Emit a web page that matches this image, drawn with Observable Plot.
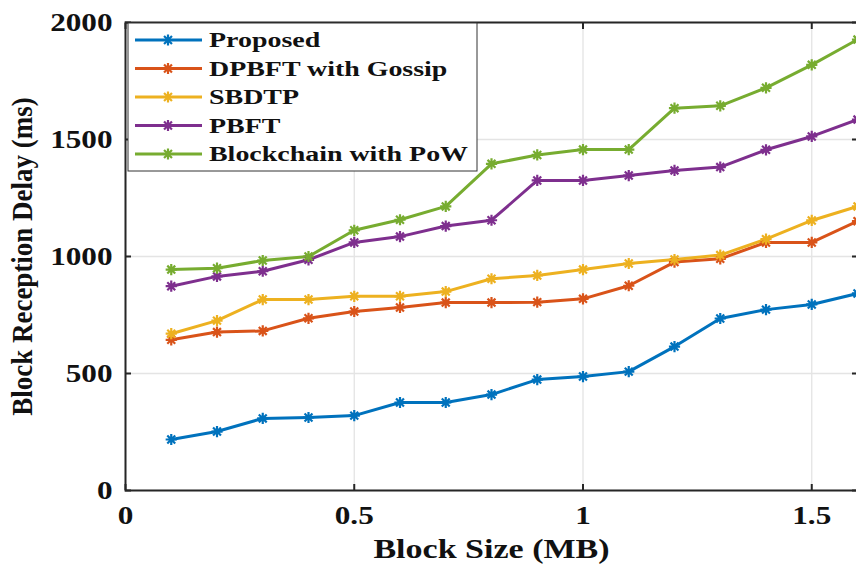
<!DOCTYPE html>
<html><head><meta charset="utf-8">
<script src="https://cdn.jsdelivr.net/npm/d3@7"></script>
<script src="https://cdn.jsdelivr.net/npm/@observablehq/plot@0.6"></script>
<style>
html,body{margin:0;padding:0;background:#fff;overflow:hidden;}
#wrap{position:relative;width:856px;height:566px;overflow:hidden;}
#wrap svg text{font-family:"Liberation Serif","Times New Roman",serif;font-weight:bold;}
</style></head><body><div id="wrap"></div>
<script>
const blockSize = [0.1,0.2,0.3,0.4,0.5,0.6,0.7,0.8,0.9,1.0,1.1,1.2,1.3,1.4,1.5,1.6];
const seriesNames = ["Proposed","DPBFT with Gossip","SBDTP","PBFT","Blockchain with PoW"];
const seriesColors = ["#0072BD","#D95319","#EDB120","#7E2F8E","#77AC30"];
const proposed = [218,252,308,312,320,376,376,410,474,487,508,615,735,773,795,842];
const dpbft    = [644,677,682,736,765,782,803,803,805,819,875,976,990,1060,1060,1151];
const sbdtp    = [670,726,816,816,830,830,850,905,919,944,970,987,1006,1074,1154,1214];
const pbft     = [873,915,937,986,1060,1085,1130,1155,1325,1325,1346,1368,1382,1456,1513,1585];
const pow      = [944,950,983,1000,1112,1157,1214,1396,1434,1457,1457,1634,1644,1721,1819,1927];
const xTicks = [0,0.5,1,1.5];
const yTicks = [0,500,1000,1500,2000];
const xLabel = "Block Size (MB)";
const yLabel = "Block Reception Delay (ms)";

const seriesValues = [proposed, dpbft, sbdtp, pbft, pow];
const data = seriesNames.flatMap((name, k) => blockSize.map((x, i) => ({series: name, x, y: seriesValues[k][i]})));

const ink = "#262626";
const txt = "#111";
const gridC = "#e4e4e4";
const R = 5.6;
const LW = 3;
const MW = 2.2;
const TICK_FS = 26, LABEL_FS = 27, LEGEND_FS = 22;

// MATLAB-style '*' marker: eight arms
const star8 = {
  draw(context, size) {
    const r = Math.sqrt(size / Math.PI);
    for (let k = 0; k < 4; ++k) {
      const a = k * Math.PI / 4, c = r * Math.cos(a), s = r * Math.sin(a);
      context.moveTo(c, s);
      context.lineTo(-c, -s);
    }
  }
};

const chart = Plot.plot({
  width: 856, height: 566,
  marginLeft: 125, marginRight: -1, marginTop: 22, marginBottom: 76,
  x: {domain: [0, 1.6]},
  y: {domain: [0, 2000]},
  color: {domain: seriesNames, range: seriesColors},
  style: {maxWidth: "none", background: "#fff"},
  marks: [
    Plot.gridX(xTicks, {stroke: gridC, strokeOpacity: 1, strokeWidth: 1.3}),
    Plot.gridY(yTicks, {stroke: gridC, strokeOpacity: 1, strokeWidth: 1.3}),
    Plot.line(data, {x: "x", y: "y", z: "series", stroke: "series", strokeWidth: LW}),
    Plot.dot(data, {x: "x", y: "y", stroke: "series", symbol: star8, r: R, strokeWidth: MW}),
    Plot.frame({stroke: ink, strokeWidth: 2}),
    Plot.axisX(xTicks, {anchor: "bottom", tickSize: 6, dy: -6, tickFormat: () => "", stroke: ink, strokeWidth: 2, label: null}),
    Plot.axisX(xTicks, {anchor: "top", tickSize: 6, dy: 6, tickFormat: () => "", stroke: ink, strokeWidth: 2, label: null}),
    Plot.axisY(yTicks, {anchor: "left", tickSize: 6, dx: 6, tickFormat: () => "", stroke: ink, strokeWidth: 2, label: null}),
    Plot.axisY(yTicks, {anchor: "right", tickSize: 6, dx: -6, tickFormat: () => "", stroke: ink, strokeWidth: 2, label: null}),
    Plot.axisX(xTicks, {anchor: "bottom", tickSize: 0, tickPadding: 15.5, fontSize: TICK_FS, fill: txt, tickFormat: d => String(d), label: null}),
    Plot.axisY(yTicks, {anchor: "left", tickSize: 0, tickPadding: 13, fontSize: TICK_FS, fill: txt, tickFormat: d => String(d), label: null}),
    Plot.text([xLabel], {text: d => d, frameAnchor: "bottom", lineAnchor: "middle", dy: 59, fontSize: LABEL_FS, fill: txt}),
    Plot.text([yLabel], {text: d => d, frameAnchor: "left", textAnchor: "middle", lineAnchor: "middle", rotate: -90, dx: -103.5, fontSize: LABEL_FS, fill: txt})
  ]
});

function stretchFor(el) {
  const t = el.getAttribute("transform") || "";
  if (/rotate/.test(t)) return 1.12;
  const holder = el.closest("[font-size]");
  const fs = holder ? +holder.getAttribute("font-size") : 0;
  return fs === TICK_FS ? 1.2 : 1.26;
}
function stretchText(root) {
  d3.select(root).selectAll("text").each(function() {
    const s = stretchFor(this);
    const t = this.getAttribute("transform") || "";
    const m = t.match(/^\s*translate\([^)]*\)/);
    if (m) {
      this.setAttribute("transform", `${m[0]} scale(${s},1)${t.slice(m[0].length)}`);
    } else {
      const x = parseFloat(this.getAttribute("x")) || 0;
      this.setAttribute("x", x / s);
      this.setAttribute("transform", `scale(${s},1) ${t}`);
    }
  });
}
stretchText(chart);
document.getElementById("wrap").appendChild(chart);

// legend
const LS = 1.27;
const leg = d3.select("#wrap").append("svg")
  .attr("width", 352).attr("height", 151)
  .style("position", "absolute").style("left", "127px").style("top", "22px");
leg.append("rect").attr("x", 1).attr("y", 1).attr("width", 349).attr("height", 148)
  .attr("fill", "#fff").attr("stroke", "#333").attr("stroke-width", 1);
const sym = d3.symbol(star8, R * R * Math.PI);
seriesNames.forEach((name, i) => {
  const g = leg.append("g").attr("transform", `translate(0,${18 + i * 28.5})`);
  g.append("line").attr("x1", 8).attr("x2", 75).attr("stroke", seriesColors[i]).attr("stroke-width", LW);
  g.append("path").attr("d", sym()).attr("transform", "translate(41,0)")
    .attr("fill", "none").attr("stroke", seriesColors[i]).attr("stroke-width", MW);
  g.append("text").attr("transform", `translate(82,0) scale(${LS},1)`).attr("dy", "0.33em")
    .attr("font-size", LEGEND_FS).attr("fill", txt).text(name);
});
</script></body></html>
